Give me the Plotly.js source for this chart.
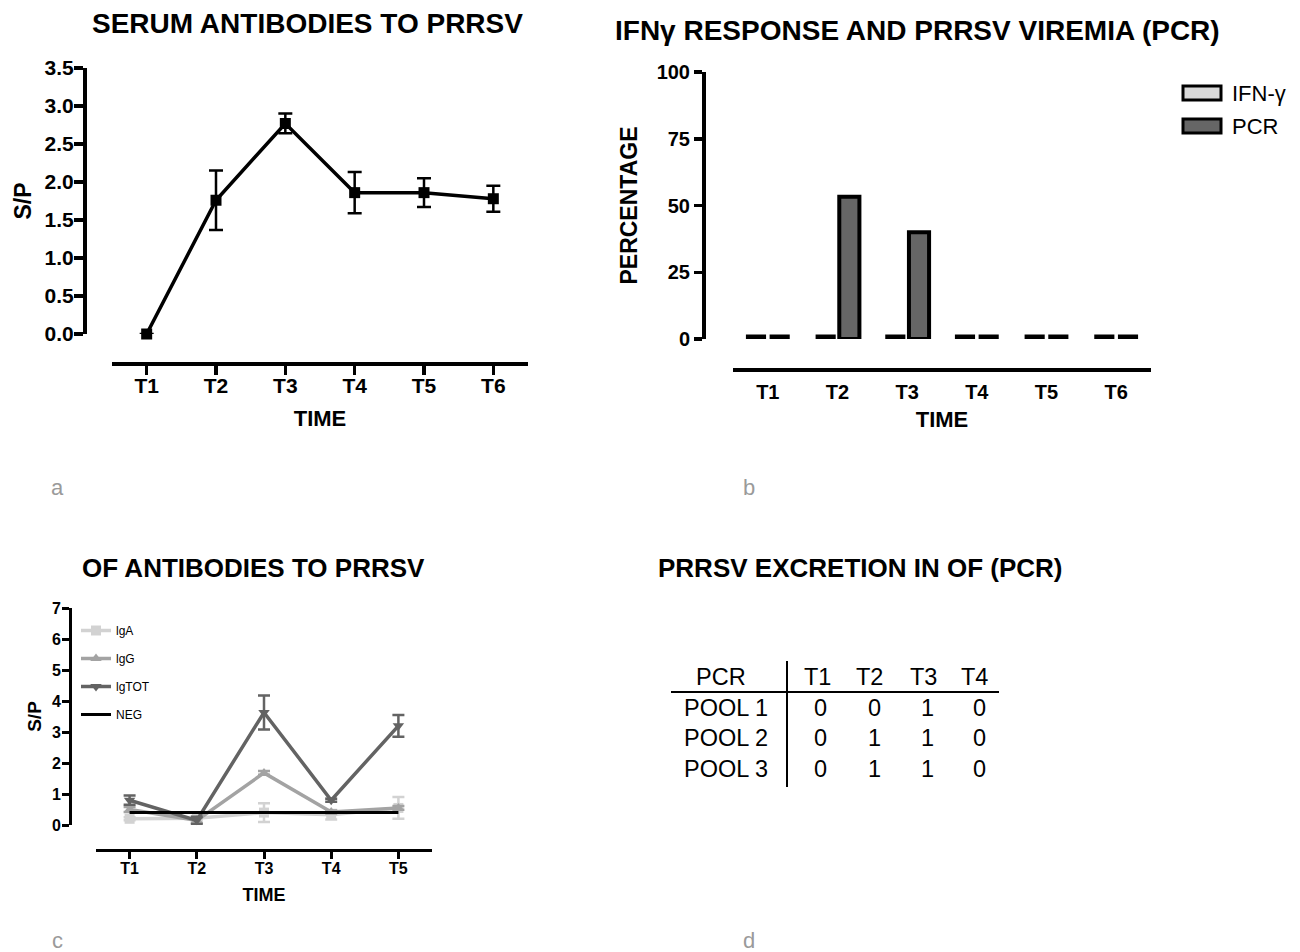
<!DOCTYPE html>
<html><head><meta charset="utf-8">
<script src="https://cdn.plot.ly/plotly-3.0.1.min.js"></script>
<style>html,body{margin:0;padding:0;background:#fff}</style>
</head><body><div id="chart" style="width:1300px;height:952px"></div>
<script>
// ---------- Panel a: serum antibodies ----------
const timeA = ['T1', 'T2', 'T3', 'T4', 'T5', 'T6'];
const serumSP = [0.0, 1.76, 2.77, 1.86, 1.86, 1.78];
const serumErr = [0.0, 0.39, 0.13, 0.27, 0.19, 0.17];

// ---------- Panel b: IFN-gamma and PCR viremia ----------
const timeB = ['T1', 'T2', 'T3', 'T4', 'T5', 'T6'];
const ifnPct = [0, 0, 0, 0, 0, 0];
const pcrPct = [0, 53.3, 40, 0, 0, 0];

// ---------- Panel c: OF antibodies ----------
const timeC = ['T1', 'T2', 'T3', 'T4', 'T5'];
const igA = [0.2, 0.22, 0.4, 0.33, 0.55];
const igAErr = [0.05, 0.05, 0.3, 0.15, 0.35];
const igG = [0.5, 0.15, 1.68, 0.42, 0.55];
const igGErr = [0.08, 0.08, 0.06, 0.05, 0.06];
const igTOT = [0.8, 0.15, 3.63, 0.8, 3.2];
const igTOTErr = [0.15, 0.12, 0.55, 0.05, 0.35];
const negCtrl = [0.4, 0.4, 0.4, 0.4, 0.4];

// ---------- Panel d: PRRSV excretion table ----------
const tableHeader = ['PCR', 'T1', 'T2', 'T3', 'T4'];
const poolNames = ['POOL 1', 'POOL 2', 'POOL 3'];
const pool1 = [0, 0, 1, 0];
const pool2 = [0, 1, 1, 0];
const pool3 = [0, 1, 1, 0];

// ---------- helpers ----------
const W = 1300, H = 952;
const fx = p => p / W;
const fy = p => 1 - p / H;
const FAM = 'Liberation Sans, Arial, Helvetica, sans-serif';
const bf = (size, color) => ({family: FAM, size: size, color: color || '#000', weight: 'bold'});
const rf = (size, color) => ({family: FAM, size: size, color: color || '#000'});

function axisBase(lw, tl) {
  return {showgrid: false, zeroline: false, showline: true, linecolor: '#000', linewidth: lw,
          ticks: 'outside', tickcolor: '#000', tickwidth: lw, ticklen: tl, fixedrange: true,
          anchor: 'free'};
}
// zero-height bars are drawn as thick dashes (outline only)
const barLine = vals => vals.map(v => v === 0 ? 9 : 4);

const traces = [];
// a
traces.push({
  type: 'scatter', mode: 'lines+markers', x: timeA, y: serumSP, xaxis: 'x', yaxis: 'y',
  line: {color: '#000', width: 3.5}, marker: {symbol: 'square', size: 11, color: '#000'},
  error_y: {type: 'data', array: serumErr, visible: true, color: '#000', thickness: 2.5, width: 7},
  cliponaxis: false, showlegend: false, name: 'S/P'
});
// b
traces.push({
  type: 'bar', x: timeB, y: ifnPct, xaxis: 'x2', yaxis: 'y2', name: 'IFN-γ',
  marker: {color: '#d9d9d9', line: {color: '#000', width: barLine(ifnPct)}}, cliponaxis: false, showlegend: false
});
traces.push({
  type: 'bar', x: timeB, y: pcrPct, xaxis: 'x2', yaxis: 'y2', name: 'PCR',
  marker: {color: '#666666', line: {color: '#000', width: barLine(pcrPct)}}, cliponaxis: false, showlegend: false
});
// c
const cSeries = [
  {name: 'IgA', y: igA, e: igAErr, color: '#d2d2d2', sym: 'square'},
  {name: 'IgG', y: igG, e: igGErr, color: '#a3a3a3', sym: 'triangle-up'},
  {name: 'IgTOT', y: igTOT, e: igTOTErr, color: '#636363', sym: 'triangle-down'}
];
cSeries.forEach((s, i) => {
  traces.push({
    type: 'scatter', mode: 'lines+markers', x: timeC, y: s.y, xaxis: 'x3', yaxis: 'y3',
    name: s.name.replace('I', 'l'), legendgroup: 'g' + i,
    line: {color: s.color, width: 3.5}, marker: {symbol: s.sym, size: 10, color: s.color},
    error_y: {type: 'data', array: s.e, visible: true, color: s.color, thickness: 2.5, width: 6},
    cliponaxis: false
  });
});
traces.push({
  type: 'scatter', mode: 'lines', x: timeC, y: negCtrl, xaxis: 'x3', yaxis: 'y3',
  name: 'NEG', legendgroup: 'g3', line: {color: '#000', width: 3}, cliponaxis: false
});

const annotations = [];
const shapes = [];
function ann(text, x, y, font, extra) {
  annotations.push(Object.assign({text: text, x: fx(x), y: fy(y), xref: 'paper', yref: 'paper',
    showarrow: false, font: font, xanchor: 'center', yanchor: 'middle'}, extra || {}));
}
// titles
ann('SERUM ANTIBODIES TO PRRSV', 307, 23, bf(28));
ann('IFNγ RESPONSE AND PRRSV VIREMIA (PCR)', 917, 30, bf(28));
ann('OF ANTIBODIES TO PRRSV', 253, 568, bf(26));
ann('PRRSV EXCRETION IN OF (PCR)', 860, 568, bf(26));
// panel letters
ann('a', 57, 488, rf(22, '#9a9a9a'));
ann('b', 749, 488, rf(22, '#9a9a9a'));
ann('c', 57, 940, rf(22, '#9a9a9a'));
ann('d', 749, 940, rf(22, '#9a9a9a'));
// panel b manual legend
const legB = [{name: 'IFN-γ', color: '#d9d9d9', y: 93}, {name: 'PCR', color: '#666666', y: 126}];
legB.forEach(l => {
  shapes.push({type: 'rect', xref: 'paper', yref: 'paper', x0: fx(1183), x1: fx(1221),
    y0: fy(l.y + 7), y1: fy(l.y - 7), fillcolor: l.color, line: {color: '#000', width: 3}});
  ann(l.name, 1230, l.y + 1, rf(22), {xanchor: 'left'});
});
// panel d table
const colX = [721, 817, 870, 923, 974];
const valX = [820, 874, 927, 979];
const rowY = [708, 738, 769];
const poolRows = [pool1, pool2, pool3];
tableHeader.forEach((h, i) => ann(h, colX[i], 677, rf(23.5)));
poolNames.forEach((p, r) => {
  ann(p, 726, rowY[r], rf(23.5));
  poolRows[r].forEach((v, c) => ann(String(v), valX[c], rowY[r], rf(23.5)));
});
shapes.push({type: 'line', xref: 'paper', yref: 'paper', x0: fx(787), x1: fx(787), y0: fy(661), y1: fy(787),
  line: {color: '#000', width: 2}});
shapes.push({type: 'line', xref: 'paper', yref: 'paper', x0: fx(671), x1: fx(999), y0: fy(692), y1: fy(692),
  line: {color: '#000', width: 2}});

const layout = {
  width: W, height: H, margin: {l: 0, r: 0, t: 0, b: 0}, paper_bgcolor: '#fff', plot_bgcolor: 'rgba(0,0,0,0)',
  font: {family: FAM, color: '#000'},
  barmode: 'group', bargap: 0.32, bargroupgap: 0.15,
  showlegend: true,
  legend: {x: fx(76), y: fy(616), xanchor: 'left', yanchor: 'top', font: rf(12), bgcolor: 'rgba(0,0,0,0)',
           tracegroupgap: 9, itemwidth: 30},
  xaxis: Object.assign(axisBase(3.5, 9), {type: 'category', categoryorder: 'array', categoryarray: timeA,
    range: [-0.5, 5.5], domain: [fx(112), fx(528)], position: fy(363), tickfont: bf(21),
    ticklabelstandoff: -7, title: {text: 'TIME', font: bf(22), standoff: 15}}),
  yaxis: Object.assign(axisBase(3.5, 9), {range: [0, 3.5], tick0: 0, dtick: 0.5, tickformat: '.1f',
    domain: [fy(334), fy(68)], position: fx(84), tickfont: bf(21), ticklabelstandoff: -4,
    title: {text: 'S/P', font: bf(23), standoff: 5}}),
  xaxis2: Object.assign(axisBase(3.5, 0), {type: 'category', categoryorder: 'array', categoryarray: timeB,
    range: [-0.5, 5.5], domain: [fx(733), fx(1151)], position: fy(369), ticks: '', ticklabelstandoff: 3,
    tickfont: bf(20), title: {text: 'TIME', font: bf(22), standoff: 10}}),
  yaxis2: Object.assign(axisBase(3.5, 8), {range: [0, 100], tick0: 0, dtick: 25,
    domain: [fy(339), fy(72)], position: fx(703), tickfont: bf(20),
    title: {text: 'PERCENTAGE', font: bf(23), standoff: 11}}),
  xaxis3: Object.assign(axisBase(3, 7), {type: 'category', categoryorder: 'array', categoryarray: timeC,
    range: [-0.5, 4.5], domain: [fx(96), fx(432)], position: fy(850), tickfont: bf(16),
    ticklabelstandoff: -4, title: {text: 'TIME', font: bf(18), standoff: 12}}),
  yaxis3: Object.assign(axisBase(3, 7), {range: [0, 7], tick0: 0, dtick: 1,
    domain: [fy(825), fy(608)], position: fx(70), tickfont: bf(16), ticklabelstandoff: -2,
    title: {text: 'S/P', font: bf(19), standoff: 4}}),
  annotations: annotations,
  shapes: shapes
};

Plotly.newPlot('chart', traces, layout, {staticPlot: true, displayModeBar: false});
</script>
</body></html>
